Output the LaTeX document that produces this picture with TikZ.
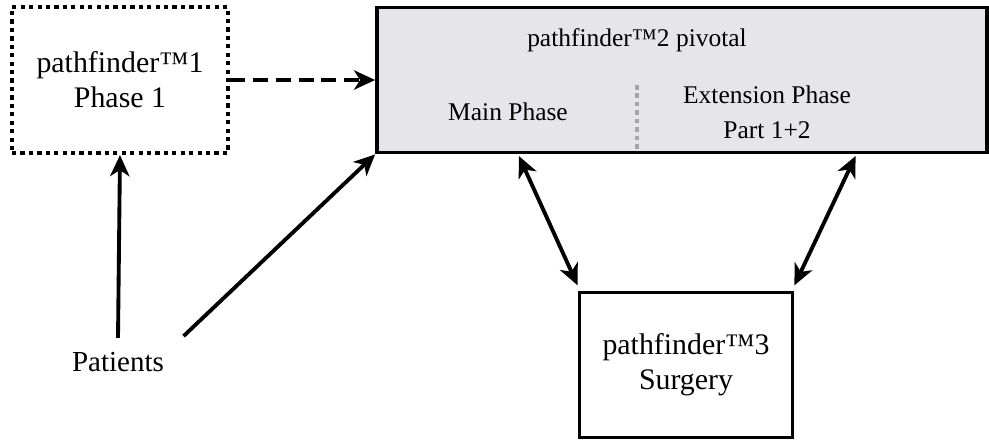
\documentclass[tikz,border=0pt]{standalone}
\usepackage{fontspec}
\setmainfont{Liberation Serif}
\usetikzlibrary{arrows.meta, positioning, calc}
\definecolor{pivotalgray}{RGB}{230, 230, 234}
\definecolor{splitgray}{RGB}{165, 165, 170}

\begin{document}
\begin{tikzpicture}[
        x=0.02cm, y=-0.02cm,
        box/.style={draw, line width=2.2pt, align=center, font=\fontsize{17}{20}\selectfont},
        label/.style={align=center, font=\fontsize{14.5}{20}\selectfont},
        arrow/.style={-{Stealth[length=12pt, width=11pt, inset=3.5pt]}, line width=2.2pt},
        twoway/.style={{Stealth[length=12pt, width=11pt, inset=3.5pt]}-{Stealth[length=12pt, width=11pt, inset=3.5pt]}, line width=2.2pt}
    ]
        \useasboundingbox (0, 0) rectangle (989, 440);

        % Phase 1 study
        \node[box, line width=2.4pt, dash pattern=on 2.4pt off 2.4pt, minimum width=4.32cm, minimum height=2.92cm] (p1) at (120, 80) {pathfinder™1\\Phase 1};

        % Pivotal study
        \node[box, fill=pivotalgray, minimum width=12.2cm, minimum height=2.9cm] (p2) at (682, 80) {};
        \node[label] (p2title) at (637, 40) {pathfinder™2 pivotal};
        \node[label] (mainph) at (508, 112) {Main Phase};
        \node[label] (extph) at (767, 112) {Extension Phase\\Part 1+2};
        \draw[splitgray, line width=2.4pt, dash pattern=on 2.6pt off 2.2pt] (637, 85) -- (637, 150);

        % Surgery study
        \node[box, minimum width=4.26cm, minimum height=2.9cm] (p3) at (686, 365) {pathfinder™3\\Surgery};

        % Patients
        \node[label, font=\fontsize{16.5}{20}\selectfont, inner sep=8pt] (patients) at (118, 362) {Patients};

        % Arrows
        \draw[arrow, dash pattern=on 8.5pt off 4.5pt] (p1.east) -- (p2.west);
        \draw[arrow] (patients.north) -- (p1.south);
        \draw[arrow] ([xshift=3pt, yshift=1pt]patients.north east) -- (p2.south west);
        \draw[twoway, shorten <=1pt] ($(p2.south west)!0.233!(p2.south east)$) -- ([yshift=3pt]p3.north west);
        \draw[twoway, shorten <=1pt] ($(p2.south west)!0.784!(p2.south east)$) -- ([yshift=3pt]p3.north east);
    \end{tikzpicture}
\end{document}
